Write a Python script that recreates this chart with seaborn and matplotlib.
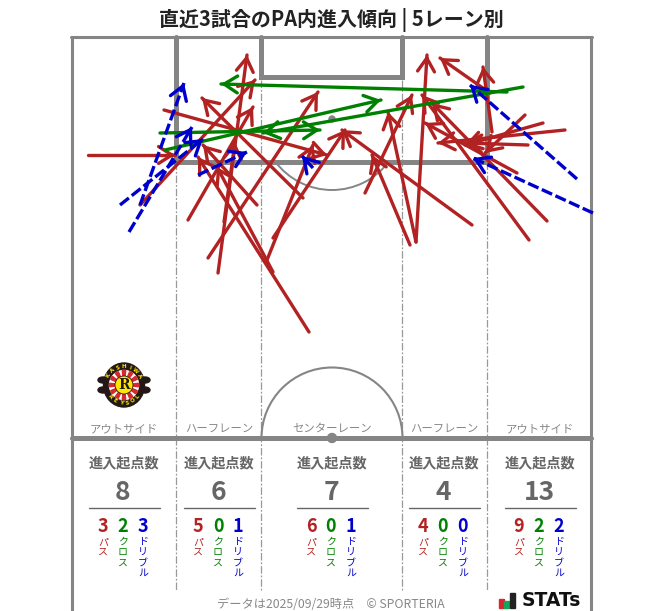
import numpy as np
import pandas as pd
import matplotlib.pyplot as plt
from matplotlib.patches import Arc, Circle, Ellipse, Rectangle, Wedge
import seaborn as sns

sns.set_style('white')
plt.rcParams['font.family'] = ['Noto Sans CJK JP', 'DejaVu Sans']

# entry arrows in pixels
pass_x0 = [88, 140, 164, 188, 208, 218, 257, 224, 303, 273, 267, 309, 273, 365, 410, 416, 416, 472,
           492, 525, 543, 565, 528, 517, 547, 529, 490]
pass_y0 = [155, 205, 110, 220, 258, 273, 205, 222, 198, 238, 260, 332, 272, 193, 245, 242, 242, 225,
           132, 115, 123, 130, 145, 173, 221, 240, 93]
pass_x1 = [175, 255, 327, 253, 318, 247, 203, 235, 202, 345, 313, 198, 217, 412, 372, 427, 388, 342,
           483, 485, 465, 438, 465, 425, 432, 422, 440]
pass_y1 = [155, 80, 155, 107, 92, 55, 145, 142, 98, 130, 145, 157, 167, 95, 155, 55, 112, 130,
           67, 153, 145, 143, 143, 123, 103, 95, 58]

cross_x0 = [160, 165, 523, 507]
cross_y0 = [133, 150, 87, 92]
cross_x1 = [320, 381, 263, 221]
cross_y1 = [130, 100, 133, 84]

dribble_x0 = [120, 129, 140, 198, 313, 577, 593]
dribble_y0 = [205, 232, 205, 175, 168, 179, 213]
dribble_x1 = [203, 192, 184, 247, 302, 470, 473]
dribble_y1 = [139, 127, 83, 152, 156, 85, 158]

lane_names = ['アウトサイド', 'ハーフレーン', 'センターレーン', 'ハーフレーン', 'アウトサイド']
lane_centers = [124, 219, 332, 444, 540]
lane_totals = [8, 6, 7, 4, 13]
lane_pass = [3, 5, 6, 4, 9]
lane_cross = [2, 0, 0, 0, 2]
lane_dribble = [3, 1, 1, 0, 2]

RED = '#b22222'
GREEN = '#008000'
BLUE = '#0000cd'
LINE = '#858585'
TEXT = '#666666'


def draw_arrows(ax, x0, y0, x1, y1, color, z, linestyle='-'):
    rows = []
    for i in range(len(x0)):
        rows.append({'id': i, 'x': x0[i], 'y': y0[i], 'step': 0})
        rows.append({'id': i, 'x': x1[i], 'y': y1[i], 'step': 1})
    df = pd.DataFrame(rows)
    sns.lineplot(data=df, x='x', y='y', units='id', estimator=None, sort=False, color=color,
                 linewidth=2.4, linestyle=linestyle, zorder=z, ax=ax, legend=False)
    # arrow heads
    for i in range(len(x0)):
        d = np.array([x1[i] - x0[i], y1[i] - y0[i]], dtype=float)
        d = d / np.hypot(*d)
        ax.annotate('', xy=(x1[i], y1[i]), xytext=(x1[i] - d[0] * 4, y1[i] - d[1] * 4),
                    arrowprops=dict(arrowstyle='->,head_length=0.6,head_width=0.38', color=color,
                                    lw=2.4, shrinkA=0, shrinkB=0, mutation_scale=16),
                    zorder=z)


def draw_pitch(ax):
    for x in [72, 591]:
        ax.plot([x, x], [37, 611], color=LINE, lw=2.2, zorder=1)
    ax.plot([71, 592], [37, 37], color=LINE, lw=2.2, zorder=1)
    ax.plot([72, 591], [438, 438], color=LINE, lw=3.6, zorder=1)
    # penalty area and goal area
    ax.plot([176, 176, 487, 487], [37, 162, 162, 37], color=LINE, lw=3.6, zorder=1, solid_joinstyle='miter')
    ax.plot([261, 261, 402, 402], [37, 77, 77, 37], color=LINE, lw=3.6, zorder=1, solid_joinstyle='miter')
    ax.add_patch(Arc((332, 119), 142, 142, theta1=37, theta2=143, color=LINE, lw=1.4, zorder=1))
    ax.add_patch(Arc((332, 438), 141, 141, theta1=180, theta2=360, color=LINE, lw=1.5, zorder=1))
    ax.add_patch(Circle((332, 438), 4.5, color=LINE, zorder=1))
    ax.add_patch(Circle((332, 119), 3, color=LINE, zorder=1))
    # lane separators
    for x, top in zip([176, 261, 402, 487], [162, 80, 80, 162]):
        ax.plot([x, x], [top, 591], color='#999999', lw=0.9, linestyle=(0, (6, 1.5, 1.5, 1.5)), zorder=0.5)


def draw_badge(ax, cx, cy):
    for sx in [-1, 1]:
        ax.add_patch(Ellipse((cx + sx * 21, cy - 5), 10, 6, color='#231815', zorder=3))
        ax.add_patch(Ellipse((cx + sx * 21, cy + 5), 10, 6, color='#231815', zorder=3))
    ax.add_patch(Ellipse((cx, cy), 41, 44, color='#231815', zorder=3.1))
    ax.add_patch(Circle((cx, cy), 14.5, color='white', zorder=3.2))
    for a in range(0, 360, 30):
        ax.add_patch(Wedge((cx, cy), 14.5, a - 7, a + 7, color='#d7282f', zorder=3.3))
    ax.add_patch(Circle((cx, cy), 9, color='#ffe600', ec='#231815', lw=0.6, zorder=3.4))
    ax.text(cx, cy, 'R', ha='center', va='center', fontsize=10, fontweight='bold', color='#231815',
            family='DejaVu Serif', zorder=3.5)
    for word, mid, sign in [('KASHIWA', -90, 1), ('REYSOL', 90, -1)]:
        for i, ch in enumerate(word):
            a = np.radians(mid + sign * (i - (len(word) - 1) / 2) * 20)
            ax.text(cx + 18 * np.cos(a), cy + 18.3 * np.sin(a), ch, ha='center', va='center',
                    fontsize=4, fontweight='bold', color='#ffe600', family='DejaVu Sans',
                    rotation=-np.degrees(a) - 90 * sign, zorder=3.5)


def draw_lane_stats(ax):
    for i, cx in enumerate(lane_centers):
        ax.text(cx, 429, lane_names[i], ha='center', va='center', fontsize=8.2, color='#888888')
        ax.text(cx, 463, '進入起点数', ha='center', va='center', fontsize=10.2, fontweight='bold', color=TEXT)
        ax.text(cx - 1, 493, str(lane_totals[i]), ha='center', va='center', fontsize=19, fontweight='bold', color=TEXT)
        ax.plot([cx - 35.5, cx + 35.5], [508, 508], color=TEXT, lw=1)
        cols = [(-21, lane_pass[i], 'パ\nス', RED), (-1, lane_cross[i], 'ク\nロ\nス', GREEN),
                (19, lane_dribble[i], 'ド\nリ\nブ\nル', BLUE)]
        for dx, val, label, col in cols:
            ax.text(cx + dx, 527, str(val), ha='center', va='center', fontsize=13, fontweight='bold', color=col)
            ax.text(cx + dx, 537, label, ha='center', va='top', fontsize=7.2, color=col, linespacing=1.02)


fig = plt.figure(figsize=(6.63, 6.11), dpi=100)
ax = fig.add_axes([0, 0, 1, 1])

draw_pitch(ax)
draw_arrows(ax, pass_x0, pass_y0, pass_x1, pass_y1, RED, 4)
draw_arrows(ax, cross_x0, cross_y0, cross_x1, cross_y1, GREEN, 5)
draw_arrows(ax, dribble_x0, dribble_y0, dribble_x1, dribble_y1, BLUE, 6, linestyle=(0, (3.4, 1.1)))
draw_badge(ax, 124, 385)
draw_lane_stats(ax)

ax.text(331, 19.5, '直近3試合のPA内進入傾向 | 5レーン別', ha='center', va='center', fontsize=14.4,
        fontweight='bold', color='#222222')
ax.text(331, 605, 'データは2025/09/29時点　© SPORTERIA', ha='center', va='center', fontsize=8.8, color='#888888')

# STATS mark
for x, w, h, col in [(499, 5, 9, '#d7282f'), (504, 5, 7, '#1aa35a'), (510, 5, 15, '#222222')]:
    ax.add_patch(Rectangle((x, 608 - h), w, h, color=col, zorder=3))
ax.text(522, 600.5, 'STATs', ha='left', va='center', fontsize=13.5, fontweight='bold', color='#111111',
        family='DejaVu Sans')

ax.set_xlim(0, 663)
ax.set_ylim(611, 0)
ax.axis('off')
fig.savefig('out.png', dpi=100, facecolor='white')
